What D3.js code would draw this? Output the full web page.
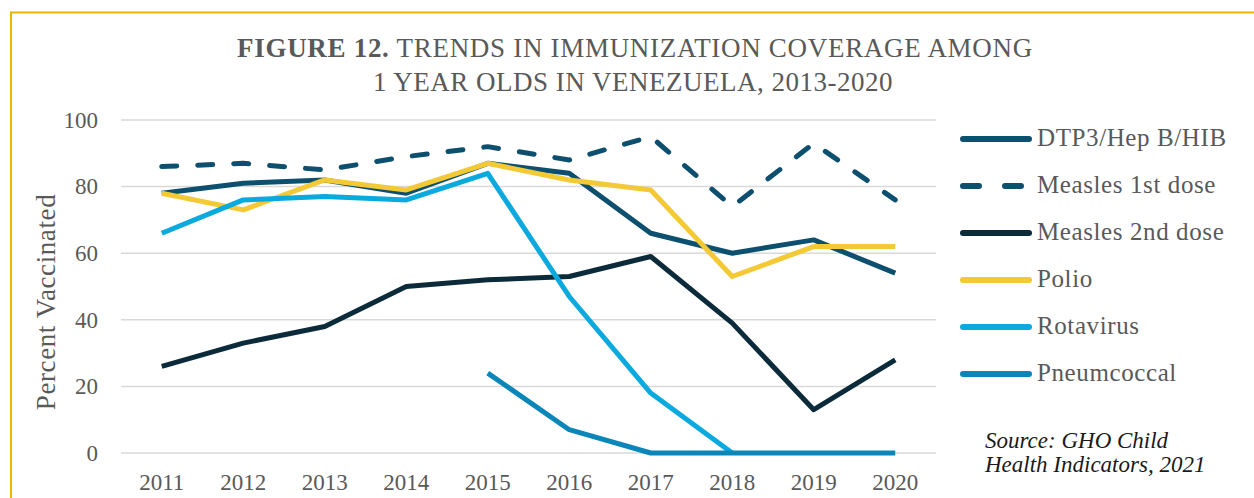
<!DOCTYPE html>
<html>
<head>
<meta charset="utf-8">
<script src="https://cdn.jsdelivr.net/npm/d3@7"></script>
<style>
  body { margin: 0; background: #fff; }
</style>
</head>
<body>
<script>
let width = 1254, height = 498;
let serif = "'Liberation Serif', 'Times New Roman', serif";

let years = [2011, 2012, 2013, 2014, 2015, 2016, 2017, 2018, 2019, 2020];
let yTicks = [0, 20, 40, 60, 80, 100];

let dtp3      = [78, 81, 82, 78, 87, 84, 66, 60, 64, 54];
let measles1  = [86, 87, 85, 89, 92, 88, 95, 74, 93, 76];
let measles2  = [26, 33, 38, 50, 52, 53, 59, 39, 13, 28];
let polio     = [78, 73, 82, 79, 87, 82, 79, 53, 62, 62];
let rotavirus = [66, 76, 77, 76, 84, 47, 18, 0, null, null];
let pneumo    = [null, null, null, null, 24, 7, 0, 0, 0, 0];

let seriesNames = ["DTP3/Hep B/HIB", "Measles 1st dose", "Measles 2nd dose", "Polio", "Rotavirus", "Pneumcoccal"];
let seriesValues = [dtp3, measles1, measles2, polio, rotavirus, pneumo];
let seriesColors = ["#0d4f6e", "#0d4f6e", "#0b2b3b", "#f3c935", "#0aa9de", "#0a86b8"];
let seriesDash = [null, "15,21", null, null, null, null];

let series = seriesNames.map((name, i) => ({
  name: name,
  values: seriesValues[i],
  color: seriesColors[i],
  dash: seriesDash[i]
}));

let svg = d3.select("body").append("svg")
    .attr("width", width)
    .attr("height", height);

// gold frame (top and left visible)
svg.append("path")
    .attr("d", "M11,498 L11,12.5 L1254,12.5")
    .attr("fill", "none")
    .attr("stroke", "#e6b800")
    .attr("stroke-width", 2);

// title
let title = svg.append("text")
    .attr("x", 635)
    .attr("y", 57)
    .attr("text-anchor", "middle")
    .style("font-family", serif)
    .style("font-size", "27px")
    .style("letter-spacing", "0.7px")
    .attr("fill", "#595959");
title.append("tspan").style("font-weight", "bold").text("FIGURE 12.");
title.append("tspan").text(" TRENDS IN IMMUNIZATION COVERAGE AMONG");

svg.append("text")
    .attr("x", 633)
    .attr("y", 91)
    .attr("text-anchor", "middle")
    .style("font-family", serif)
    .style("font-size", "27px")
    .style("letter-spacing", "0.5px")
    .attr("fill", "#595959")
    .text("1 YEAR OLDS IN VENEZUELA, 2013-2020");

let x = d3.scaleBand()
    .domain(years)
    .range([121, 936]);

let y = d3.scaleLinear()
    .domain([0, 100])
    .range([453, 120]);

// gridlines
svg.append("g")
    .selectAll("line")
    .data(yTicks)
  .enter().append("line")
    .attr("x1", 121)
    .attr("x2", 936)
    .attr("y1", d => y(d))
    .attr("y2", d => y(d))
    .attr("stroke", "#d9d9d9")
    .attr("stroke-width", 1.5);

// y axis labels
let yAxis = svg.append("g")
    .attr("transform", "translate(108,0)")
    .call(d3.axisLeft(y).tickValues(yTicks).tickSize(0).tickPadding(10));
yAxis.select(".domain").remove();
yAxis.selectAll("text")
    .style("font-family", serif)
    .style("font-size", "23px")
    .attr("fill", "#595959");

// x axis labels
let xAxis = svg.append("g")
    .attr("transform", "translate(0,468)")
    .call(d3.axisBottom(x).tickSize(0).tickPadding(6));
xAxis.select(".domain").remove();
xAxis.selectAll("text")
    .style("font-family", serif)
    .style("font-size", "23px")
    .attr("fill", "#595959");

// y axis title
svg.append("text")
    .attr("transform", "translate(55,302) rotate(-90)")
    .attr("text-anchor", "middle")
    .style("font-family", serif)
    .style("font-size", "27px")
    .style("letter-spacing", "0.6px")
    .attr("fill", "#595959")
    .text("Percent Vaccinated");

// lines
let line = d3.line()
    .defined(d => d.v != null)
    .x(d => x(d.year) + x.bandwidth() / 2)
    .y(d => y(d.v));

svg.append("g")
    .selectAll("path")
    .data(series)
  .enter().append("path")
    .attr("d", s => line(s.values.map((v, i) => ({ year: years[i], v: v }))))
    .attr("fill", "none")
    .attr("stroke", s => s.color)
    .attr("stroke-width", 5)
    .attr("stroke-linejoin", "round")
    .attr("stroke-linecap", s => s.dash ? "round" : "butt")
    .attr("stroke-dasharray", s => s.dash);

// legend
let legend = svg.append("g")
    .selectAll("g")
    .data(series)
  .enter().append("g")
    .attr("transform", (s, i) => "translate(0," + (139 + i * 47) + ")");

legend.append("line")
    .attr("x1", 963)
    .attr("x2", 1029)
    .attr("stroke", s => s.color)
    .attr("stroke-width", 6)
    .attr("stroke-linecap", "round")
    .attr("stroke-dasharray", s => s.dash ? "16,26" : null);

legend.append("text")
    .attr("x", 1037)
    .attr("y", 7)
    .style("font-family", serif)
    .style("font-size", "25px")
    .style("letter-spacing", "0.6px")
    .attr("fill", "#595959")
    .text(s => s.name);

// source note
let source = svg.append("text")
    .style("font-family", serif)
    .style("font-size", "23px")
    .style("font-style", "italic")
    .attr("fill", "#1a1a1a");
source.append("tspan").attr("x", 985).attr("y", 448).text("Source: GHO Child");
source.append("tspan").attr("x", 985).attr("y", 472).text("Health Indicators, 2021");
</script>
</body>
</html>
